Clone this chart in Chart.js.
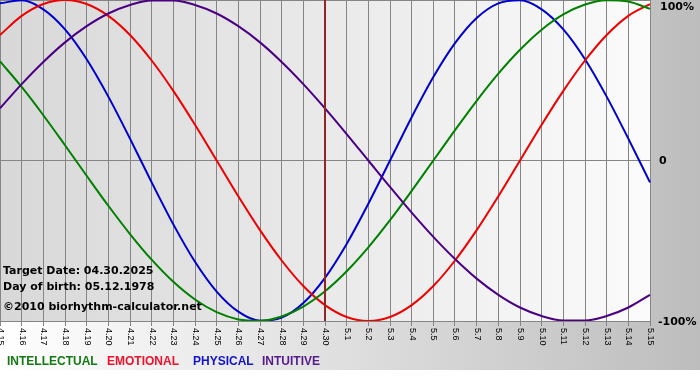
<!DOCTYPE html>
<html>
<head>
<meta charset="utf-8">
<script src="https://cdn.jsdelivr.net/npm/chart.js@4.4.1/dist/chart.umd.min.js"></script>
<style>
html,body{margin:0;padding:0;background:#fff;}
#wrap{width:700px;height:380px;}
</style>
</head>
<body>
<div id="wrap"><canvas id="c" width="700" height="380"></canvas></div>
<script>
const dayLabels = ['4.15','4.16','4.17','4.18','4.19','4.20','4.21','4.22','4.23','4.24','4.25','4.26','4.27','4.28','4.29','4.30',
  '5.1','5.2','5.3','5.4','5.5','5.6','5.7','5.8','5.9','5.10','5.11','5.12','5.13','5.14','5.15'];
const intellectual = [61.8,45.8,28.2,9.5,-9.5,-28.2,-45.8,-61.8,-75.6,-86.6,-94.5,-99.0,-99.9,-97.2,-91.0,-81.5,
  -69.0,-54.1,-37.2,-18.9,0,18.9,37.2,54.1,69.0,81.5,91.0,97.2,99.9,99.0,94.5];
const emotional = [78.2,90.1,97.5,100,97.5,90.1,78.2,62.3,43.4,22.3,0,-22.3,-43.4,-62.3,-78.2,-90.1,
  -97.5,-100,-97.5,-90.1,-78.2,-62.3,-43.4,-22.3,0,22.3,43.4,62.3,78.2,90.1,97.5];
const physical = [97.9,99.8,94.2,81.7,63.1,39.8,13.6,-13.6,-39.8,-63.1,-81.7,-94.2,-99.8,-97.9,-88.8,-73.1,
  -52.0,-27.0,0,27.0,52.0,73.1,88.8,97.9,99.8,94.2,81.7,63.1,39.8,13.6,-13.6];
const intuitive = [32.5,47.6,61.4,73.6,83.7,91.6,96.9,99.7,99.7,96.9,91.6,83.7,73.6,61.4,47.6,32.5,
  16.5,0,-16.5,-32.5,-47.6,-61.4,-73.6,-83.7,-91.6,-96.9,-99.7,-99.7,-96.9,-91.6,-83.7];
const yTicks = [100, 0, -100];
const yTickLabels = ['100%', '0', '-100%'];
const targetLabel = '4.30';
const infoLines = ['Target Date: 04.30.2025', 'Day of birth: 05.12.1978', '\u00A92010 biorhythm-calculator.net'];
const legendItems = ['INTELLECTUAL', 'EMOTIONAL', 'PHYSICAL', 'INTUITIVE'];
const lineColors = ['#008000', '#ee0000', '#0000cc', '#4b0082'];
const legendColors = ['#137a13', '#f0102a', '#1414c8', '#561a8a'];

const bgPlugin = {
  id: 'bg',
  beforeDraw(chart) {
    const {ctx, chartArea: a, width, height} = chart;
    ctx.save();
    ctx.fillStyle = '#ffffff';
    ctx.fillRect(0, 0, width, height);
    const g = ctx.createLinearGradient(0, 0, width, 0);
    g.addColorStop(0, '#ffffff');
    g.addColorStop(1, '#bdbdbd');
    ctx.fillStyle = g;
    ctx.fillRect(0, 0, width, 370);
    const g2 = ctx.createLinearGradient(a.left, 0, a.right, 0);
    g2.addColorStop(0, '#d8d8d8');
    g2.addColorStop(1, '#fbfbfb');
    ctx.fillStyle = g2;
    ctx.fillRect(a.left, a.top, a.right - a.left, a.bottom - a.top);
    ctx.restore();
  },
  afterDatasetsDraw(chart) {
    const {ctx, chartArea: a, scales} = chart;
    const x = scales.x.getPixelForValue(dayLabels.indexOf(targetLabel));
    ctx.save();
    ctx.strokeStyle = '#922424';
    ctx.lineWidth = 2;
    ctx.beginPath();
    ctx.moveTo(x, a.top);
    ctx.lineTo(x, a.bottom);
    ctx.stroke();
    ctx.restore();
  },
  afterDraw(chart) {
    const {ctx, chartArea: a, scales} = chart;
    ctx.save();
    // x labels rotated
    ctx.fillStyle = '#000';
    ctx.font = '9px "Liberation Sans", Arial, sans-serif';
    ctx.textAlign = 'left';
    ctx.textBaseline = 'middle';
    dayLabels.forEach((lab, i) => {
      const x = scales.x.getPixelForValue(i);
      ctx.save();
      ctx.translate(x + 0.5, a.bottom + 7);
      ctx.rotate(Math.PI / 2);
      ctx.fillText(lab, 0, 0);
      ctx.restore();
    });
    // y labels
    ctx.font = 'bold 11px "DejaVu Sans", Verdana, sans-serif';
    const yOff = [7, 1, 1];
    const xOff = [10, 9, 8];
    yTicks.forEach((v, i) => {
      const y = scales.y.getPixelForValue(v);
      ctx.fillText(yTickLabels[i], a.right + xOff[i], Math.max(y, a.top) + yOff[i]);
    });
    // info text
    ctx.font = 'bold 11px "DejaVu Sans", Verdana, sans-serif';
    const infoY = [271.5, 287, 307];
    infoLines.forEach((t, i) => ctx.fillText(t, 3, infoY[i]));
    // legend
    ctx.font = 'bold 12px "Liberation Sans", Arial, sans-serif';
    const legX = [7, 107, 193, 262];
    legendItems.forEach((t, i) => {
      ctx.fillStyle = legendColors[i];
      ctx.fillText(t, legX[i], 362);
    });
    ctx.restore();
  }
};

const mk = (label, data, color) => ({
  label, data, borderColor: color, backgroundColor: color, borderWidth: 2,
  pointRadius: 0, fill: false, cubicInterpolationMode: 'monotone'
});

new Chart(document.getElementById('c'), {
  type: 'line',
  data: {
    labels: dayLabels,
    datasets: [
      mk(legendItems[3], intuitive, lineColors[3]),
      mk(legendItems[0], intellectual, lineColors[0]),
      mk(legendItems[1], emotional, lineColors[1]),
      mk(legendItems[2], physical, lineColors[2])
    ]
  },
  options: {
    responsive: false,
    animation: false,
    devicePixelRatio: 1,
    layout: {padding: 0},
    plugins: {legend: {display: false}, tooltip: {enabled: false}},
    scales: {
      x: {
        offset: false,
        grid: {color: '#858585', lineWidth: 1, drawTicks: true, tickLength: 5, tickColor: '#858585'},
        border: {color: '#858585'},
        ticks: {display: false},
        afterFit(s) { s.height = 59; }
      },
      y: {
        position: 'right',
        min: -100, max: 100,
        ticks: {display: false, stepSize: 100},
        grid: {color: '#858585', lineWidth: 1, drawTicks: false},
        border: {color: '#858585'},
        afterFit(s) { s.width = 50; }
      }
    }
  },
  plugins: [bgPlugin]
});
</script>
</body>
</html>
